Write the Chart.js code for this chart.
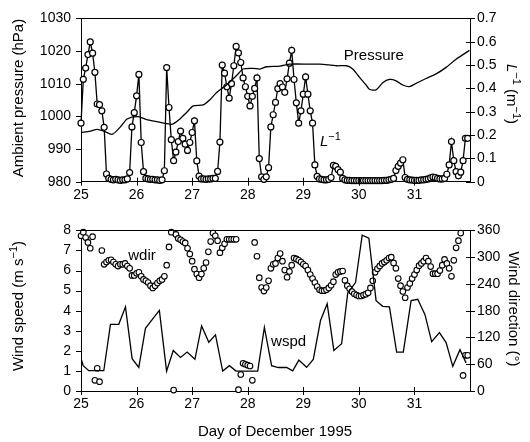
<!DOCTYPE html>
<html>
<head>
<meta charset="utf-8">
<script src="https://cdn.jsdelivr.net/npm/chart.js@4.4.1/dist/chart.umd.min.js"></script>
<style>
  html, body { margin: 0; padding: 0; background: #fff; }
  #wrap { position: relative; width: 530px; height: 442px; }
  #topChart { position: absolute; left: 0; top: 0; }
  #botChart { position: absolute; left: 0; top: 212px; }
</style>
</head>
<body>
<div id="wrap">
  <canvas id="topChart" width="530" height="212"></canvas>
  <canvas id="botChart" width="530" height="230"></canvas>
</div>
<script>
// hourly series start at 25 December 00:00
const startDay = 25;

// inverse Obukhov length L^-1 (m^-1), one value per hour
const lInv = [
  0.251, 0.439, 0.487, 0.545, 0.599, 0.551, 0.469, 0.333, 0.330, 0.304,
  0.233, 0.033, 0.014, 0.010, 0.008, 0.010, 0.008, 0.006, 0.008, 0.008,
  0.012, 0.039, 0.235, 0.296, 0.368, 0.460, 0.168, 0.043, 0.014, 0.012,
  0.010, 0.010, 0.008, 0.008, 0.006, 0.008, 0.047, 0.489, 0.318, 0.180,
  0.090, 0.127, 0.172, 0.217, 0.186, 0.161, 0.134, 0.168, 0.211, 0.261,
  0.089, 0.024, 0.012, 0.012, 0.010, 0.012, 0.012, 0.014, 0.014, 0.044,
  0.170, 0.500, 0.465, 0.407, 0.358, 0.420, 0.497, 0.580, 0.552, 0.511,
  0.445, 0.407, 0.366, 0.325, 0.366, 0.400, 0.445, 0.099, 0.021, 0.010,
  0.021, 0.060, 0.235, 0.287, 0.340, 0.399, 0.420, 0.406, 0.383, 0.441,
  0.508, 0.563, 0.438, 0.338, 0.251, 0.304, 0.375, 0.449, 0.375, 0.304,
  0.251, 0.072, 0.023, 0.012, 0.010, 0.008, 0.008, 0.010, 0.018, 0.070,
  0.066, 0.052, 0.041, 0.014, 0.008, 0.006, 0.006, 0.005, 0.005, 0.005,
  0.005, 0.005, 0.005, 0.005, 0.005, 0.005, 0.005, 0.005, 0.005, 0.005,
  0.005, 0.006, 0.006, 0.008, 0.010, 0.014, 0.048, 0.066, 0.080, 0.094,
  0.018, 0.010, 0.008, 0.007, 0.006, 0.006, 0.006, 0.008, 0.008, 0.010,
  0.012, 0.016, 0.020, 0.018, 0.014, 0.012, 0.012, 0.014, 0.032, 0.072,
  0.172, 0.090, 0.043, 0.025, 0.041, 0.090, 0.186, 0.186
];

// wind direction (deg), one value per hour
const wdir = [
  348, 356, 344, 333, 320, 346, 24, 51, 21, 315,
  284, 289, 293, 294, 289, 284, 280, 284, 284, 286,
  280, 275, 259, 259, 264, 266, 257, 250, 247, 243,
  236, 231, 236, 242, 247, 250, 257, 282, 323, 356,
  2, 351, 342, 339, 335, 332, 320, 307, 291, 273,
  262, 254, 262, 275, 288, 312, 335, 354, 348, 337,
  310, 321, 330, 340, 340, 340, 340, 340, 3, 37,
  62, 60, 58, 56, 24, 333, 302, 254, 232, 224,
  232, 247, 275, 284, 286, 298, 308, 291, 271, 255,
  268, 282, 298, 296, 293, 289, 284, 280, 271, 261,
  252, 243, 234, 227, 225, 225, 227, 231, 237, 245,
  261, 266, 268, 269, 248, 236, 229, 223, 218, 215,
  213, 213, 215, 217, 220, 231, 247, 266, 274, 280,
  286, 289, 293, 298, 300, 287, 275, 252, 236, 223,
  209, 232, 241, 252, 261, 271, 281, 286, 291, 298,
  291, 279, 263, 263, 263, 270, 282, 295, 286, 275,
  257, 293, 321, 337, 354, 35, 80, 80
];

// ambient pressure (hPa)
const pDays = [25.00, 25.17, 25.29, 25.41, 25.56, 25.71, 25.83, 26.03, 26.18, 26.36,
  26.60, 26.66, 26.78, 26.90, 27.02, 27.20, 27.32, 27.44, 27.62, 27.80,
  27.92, 28.10, 28.22, 28.34, 28.58, 28.76, 29.12, 29.30, 29.60, 29.78,
  29.89, 30.01, 30.13, 30.19, 30.31, 30.43, 30.55, 30.67, 30.79, 30.91,
  31.03, 31.21, 31.39, 31.57, 31.75, 31.99];
const pValues = [995.1, 995.5, 996.0, 995.5, 994.5, 996.8, 999.2, 999.9, 999.0, 998.4,
  997.6, 997.7, 999.2, 1001.2, 1003.2, 1003.5, 1005.1, 1007.3, 1009.6, 1012.5,
  1014.5, 1014.7, 1014.5, 1015.2, 1015.4, 1016.0, 1016.0, 1016.0, 1015.5, 1015.5,
  1014.5, 1012.0, 1009.6, 1008.3, 1008.1, 1010.3, 1011.3, 1010.9, 1009.6, 1009.1,
  1010.1, 1011.6, 1013.0, 1015.0, 1017.5, 1020.2];

// wind speed (m/s)
const wsDays = [25.00, 25.04, 25.14, 25.41, 25.53, 25.68, 25.80, 25.92,
  26.04, 26.16, 26.28, 26.41, 26.54, 26.66, 26.79, 26.91,
  27.05, 27.17, 27.30, 27.42, 27.55, 27.67, 27.79,
  28.18, 28.30, 28.43, 28.55, 28.70, 28.81, 28.92,
  29.06, 29.18, 29.31, 29.43, 29.55, 29.69, 29.80, 29.94,
  30.06, 30.18, 30.31, 30.43, 30.55, 30.68, 30.80, 30.94,
  31.06, 31.19, 31.31, 31.45, 31.57, 31.69, 31.82, 31.93];
const wsValues = [1.62, 1.26, 1.01, 1.01, 3.32, 3.32, 4.19, 1.61,
  1.18, 3.12, 3.56, 4.02, 0.99, 2.02, 1.67, 1.94,
  1.58, 3.24, 2.43, 2.80, 0.99, 1.26, 0.99,
  0.99, 3.17, 1.26, 1.17, 1.17, 1.00, 1.54,
  1.18, 1.57, 3.51, 4.35, 2.02, 2.36, 4.88, 5.40,
  7.76, 7.61, 4.50, 4.22, 4.19, 1.94, 1.94, 4.50,
  4.57, 3.80, 2.46, 2.91, 2.41, 1.23, 2.06, 1.40];

const dayTicks = [25, 26, 27, 28, 29, 30, 31];

const FAMILY = '"Liberation Sans", Arial, sans-serif';
const TICK_FONT = { family: FAMILY, size: 14 };
const LABEL_SIZE = 15;

const hourly = arr => arr.map((v, i) => ({ x: startDay + i / 24, y: v }));
const paired = (xs, ys) => xs.map((x, i) => ({ x: x, y: ys[i] }));

// draws text made of parts: [text, italic, superscript]
function drawRich(ctx, parts, x, y, angle, size, align) {
  const fontOf = p => (p[1] ? 'italic ' : '') + (p[2] ? Math.round(size * 0.7) : size) + 'px ' + FAMILY;
  ctx.save();
  ctx.translate(x, y);
  ctx.rotate(angle);
  ctx.fillStyle = '#000';
  ctx.textBaseline = 'alphabetic';
  ctx.textAlign = 'left';
  let total = 0;
  parts.forEach(p => { ctx.font = fontOf(p); total += ctx.measureText(p[0]).width; });
  let cx = align === 'center' ? -total / 2 : 0;
  const base = align === 'center' ? size * 0.36 : 0;
  parts.forEach(p => {
    ctx.font = fontOf(p);
    ctx.fillText(p[0], cx, base - (p[2] ? size * 0.4 : 0));
    cx += ctx.measureText(p[0]).width;
  });
  ctx.restore();
}

// frame top line plus tick marks (left outward, right and bottom crossing)
const frameTicks = {
  id: 'frameTicks',
  afterDraw(chart) {
    const ctx = chart.ctx, a = chart.chartArea;
    const xs = chart.scales.x, yl = chart.scales.y, yr = chart.scales.y2;
    ctx.save();
    ctx.strokeStyle = '#000';
    ctx.lineWidth = 1;
    ctx.beginPath();
    const top = Math.round(a.top) + 0.5;
    ctx.moveTo(a.left, top);
    ctx.lineTo(a.right, top);
    dayTicks.forEach(d => {
      const px = Math.round(xs.getPixelForValue(d)) + 0.5;
      ctx.moveTo(px, a.bottom - 4);
      ctx.lineTo(px, a.bottom + 4);
    });
    yl.ticks.forEach(t => {
      const py = Math.round(yl.getPixelForValue(t.value)) + 0.5;
      ctx.moveTo(a.left - 5, py);
      ctx.lineTo(a.left, py);
    });
    yr.ticks.forEach(t => {
      const py = Math.round(yr.getPixelForValue(t.value)) + 0.5;
      ctx.moveTo(a.right - 4, py);
      ctx.lineTo(a.right + 5, py);
    });
    ctx.stroke();
    ctx.restore();
  }
};

// free text: axis titles and series labels
const texts = {
  id: 'texts',
  afterDraw(chart) {
    const ctx = chart.ctx, xs = chart.scales.x, yl = chart.scales.y;
    (chart.options.plugins.texts.items || []).forEach(it => {
      const x = it.day !== undefined ? xs.getPixelForValue(it.day) : it.px;
      const y = it.val !== undefined ? yl.getPixelForValue(it.val) : it.py;
      drawRich(ctx, it.parts, x, y, it.angle || 0, LABEL_SIZE, it.align || 'left');
    });
  }
};

function baseOptions(canvasH, bottom, padTop, leftAxis, rightAxis, items) {
  return {
    responsive: false,
    animation: false,
    events: [],
    layout: { padding: { top: padTop, left: 0, right: 0, bottom: 0 } },
    plugins: { legend: { display: false }, tooltip: { enabled: false }, texts: { items: items } },
    scales: {
      x: {
        type: 'linear', min: 25, max: 32,
        grid: { display: false, drawTicks: false },
        border: { display: true, color: '#000', width: 1 },
        ticks: {
          stepSize: 1, padding: 5, color: '#000', font: TICK_FONT, maxRotation: 0,
          callback: v => (v >= 32 ? '' : String(v))
        },
        afterFit: s => { s.height = canvasH - bottom; }
      },
      y: Object.assign({
        position: 'left',
        grid: { display: false, drawTicks: false },
        border: { display: true, color: '#000', width: 1 },
        afterFit: s => { s.width = 81; }
      }, leftAxis),
      y2: Object.assign({
        position: 'right',
        grid: { display: false, drawTicks: false },
        border: { display: true, color: '#000', width: 1 },
        afterFit: s => { s.width = 60; }
      }, rightAxis)
    }
  };
}

const circle = {
  pointStyle: 'circle',
  pointBackgroundColor: '#fff',
  pointBorderColor: '#000'
};

new Chart(document.getElementById('topChart'), {
  type: 'line',
  data: {
    datasets: [
      {
        label: 'Pressure', yAxisID: 'y',
        data: paired(pDays, pValues),
        borderColor: '#000', borderWidth: 1.3, pointRadius: 0, tension: 0.25
      },
      Object.assign({
        label: 'L-1', yAxisID: 'y2',
        data: hourly(lInv),
        borderColor: '#000', borderWidth: 1.3,
        pointRadius: 3, pointBorderWidth: 1.2, tension: 0, clip: false
      }, circle)
    ]
  },
  options: baseOptions(212, 181.7, 12.7,
    { min: 980, max: 1030, ticks: { stepSize: 10, padding: 10, color: '#000', font: TICK_FONT,
        callback: v => String(v) } },
    { min: 0, max: 0.7, ticks: { stepSize: 0.1, padding: 7, color: '#000', font: TICK_FONT,
        callback: v => (Math.abs(v) < 1e-9 ? '0' : v.toFixed(1)) } },
    [
      { parts: [['Ambient pressure (hPa)']], px: 18, py: 98, angle: -Math.PI / 2, align: 'center' },
      { parts: [['L', true], ['\u22121', false, true], [' (m'], ['\u22121', false, true], [')']],
        px: 512, py: 94, angle: Math.PI / 2, align: 'center' },
      { parts: [['Pressure']], day: 29.73, val: 1017.4 },
      { parts: [['L', true], ['\u22121', false, true]], day: 29.30, val: 990.9 }
    ])
  ,
  plugins: [frameTicks, texts]
});

new Chart(document.getElementById('botChart'), {
  type: 'line',
  data: {
    datasets: [
      {
        label: 'wspd', yAxisID: 'y',
        data: paired(wsDays, wsValues),
        borderColor: '#000', borderWidth: 1.3, pointRadius: 0, tension: 0
      },
      Object.assign({
        label: 'wdir', yAxisID: 'y2',
        data: hourly(wdir),
        showLine: false,
        pointRadius: 2.8, pointBorderWidth: 1.1, clip: false
      }, circle)
    ]
  },
  options: baseOptions(230, 179, 9.7,
    { min: 0, max: 8, ticks: { stepSize: 1, padding: 10, color: '#000', font: TICK_FONT } },
    { min: 0, max: 360, ticks: { stepSize: 60, padding: 7, color: '#000', font: TICK_FONT } },
    [
      { parts: [['Wind speed (m s'], ['\u22121', false, true], [')']], px: 18, py: 94, angle: -Math.PI / 2, align: 'center' },
      { parts: [['Wind direction (\u00b0)']], px: 514, py: 97, angle: Math.PI / 2, align: 'center' },
      { parts: [['Day of December 1995']], px: 275, py: 219, align: 'center' },
      { parts: [['wdir']], day: 25.85, val: 6.55 },
      { parts: [['wspd']], day: 28.42, val: 2.25 }
    ])
  ,
  plugins: [frameTicks, texts]
});
</script>
</body>
</html>
